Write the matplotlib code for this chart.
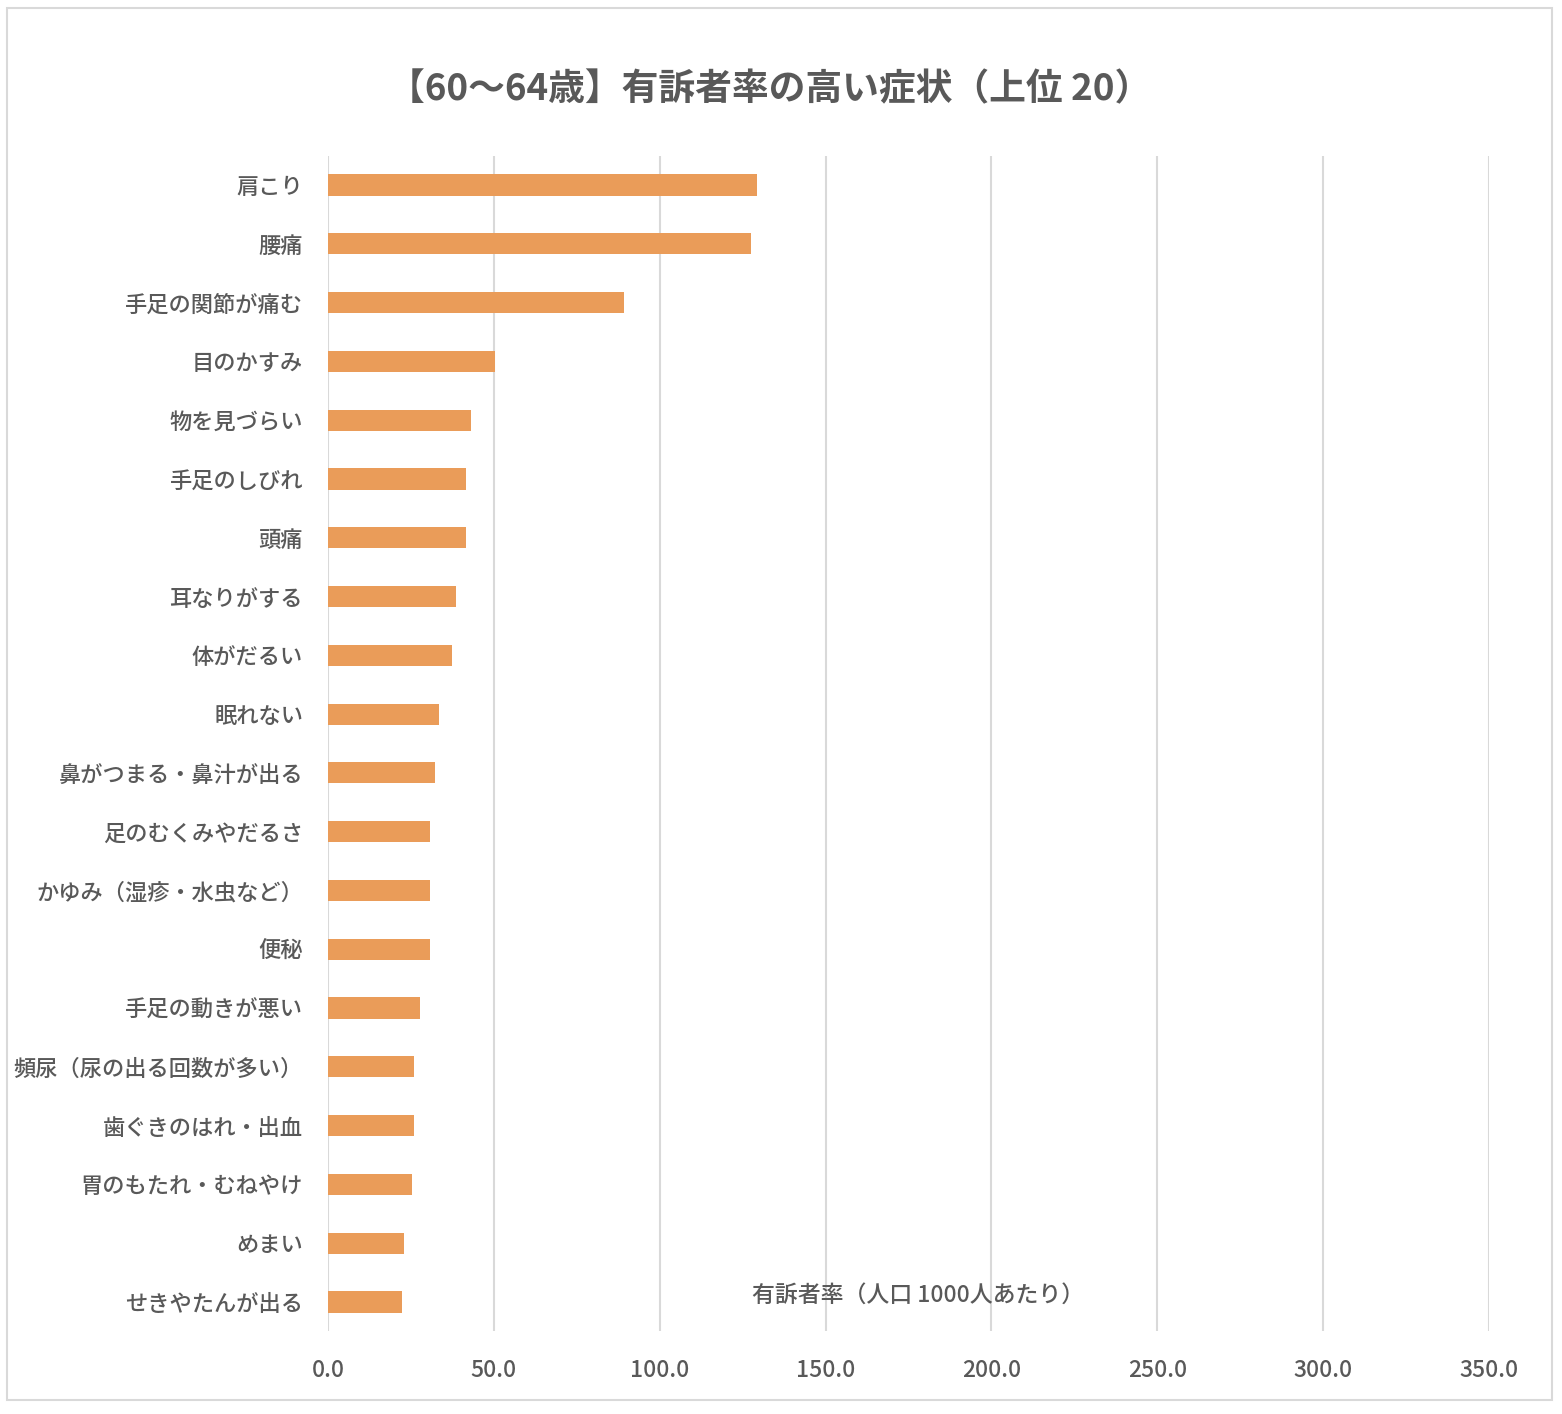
import matplotlib
matplotlib.use("Agg")
import matplotlib.pyplot as plt
from matplotlib.patches import Rectangle

plt.rcParams['font.family'] = ['Noto Sans CJK JP', 'DejaVu Sans']

categories = [
    "肩こり", "腰痛", "手足の関節が痛む", "目のかすみ", "物を見づらい",
    "手足のしびれ", "頭痛", "耳なりがする", "体がだるい", "眠れない",
    "鼻がつまる・鼻汁が出る", "足のむくみやだるさ", "かゆみ（湿疹・水虫など）",
    "便秘", "手足の動きが悪い", "頻尿（尿の出る回数が多い）",
    "歯ぐきのはれ・出血", "胃のもたれ・むねやけ", "めまい", "せきやたんが出る",
]
values = [129.3, 127.6, 89.3, 50.4, 43.2, 41.5, 41.5, 38.5, 37.3, 33.6,
          32.4, 30.7, 30.7, 30.7, 27.7, 25.9, 25.9, 25.3, 23.0, 22.2]
xticks = [0, 50, 100, 150, 200, 250, 300, 350]
xtick_labels = ["0.0", "50.0", "100.0", "150.0", "200.0", "250.0", "300.0", "350.0"]
title = "【60～64歳】有訴者率の高い症状（上位 20）"
axis_title = "有訴者率（人口 1000人あたり）"

W, H = 1562, 1414
fig = plt.figure(figsize=(W / 100, H / 100), dpi=100)
fig.patch.set_facecolor("white")

# outer border
fig.patches.append(Rectangle((7 / W, 1 - 1400 / H), (1552 - 7) / W, (1400 - 8) / H,
                             transform=fig.transFigure, fill=False,
                             edgecolor="#d9d9d9", linewidth=1.5))

ax = fig.add_axes([328 / W, 1 - 1331.4 / H, (1489 - 328) / W, (1331.4 - 155.6) / H])
ypos = list(range(len(categories)))
ax.barh(ypos, values, height=0.36, color="#EA9C59", zorder=3)
ax.set_ylim(len(categories) - 0.5, -0.5)
ax.set_xlim(0, 350)
ax.set_xticks(xticks)
ax.set_xticklabels(xtick_labels)
ax.set_yticks(ypos)
ax.set_yticklabels(categories)
ax.grid(axis="x", color="#d9d9d9", linewidth=1.5, zorder=0)
for s in ax.spines.values():
    s.set_visible(False)
ax.tick_params(axis="both", length=0, labelcolor="#595959")
ax.tick_params(axis="y", pad=18, labelsize=16)
ax.tick_params(axis="x", pad=20, labelsize=16.5)
for lab in ax.get_yticklabels() + ax.get_xticklabels():
    lab.set_fontweight("medium")

fig.text(770 / W, 1 - 90 / H, title, ha="center", va="center",
         fontsize=26.5, fontweight="bold", color="#595959")
fig.text(918 / W, 1 - 1295 / H, axis_title, ha="center", va="center",
         fontsize=16.5, fontweight="medium", color="#595959")

fig.savefig("out.png", dpi=100, facecolor="white")
